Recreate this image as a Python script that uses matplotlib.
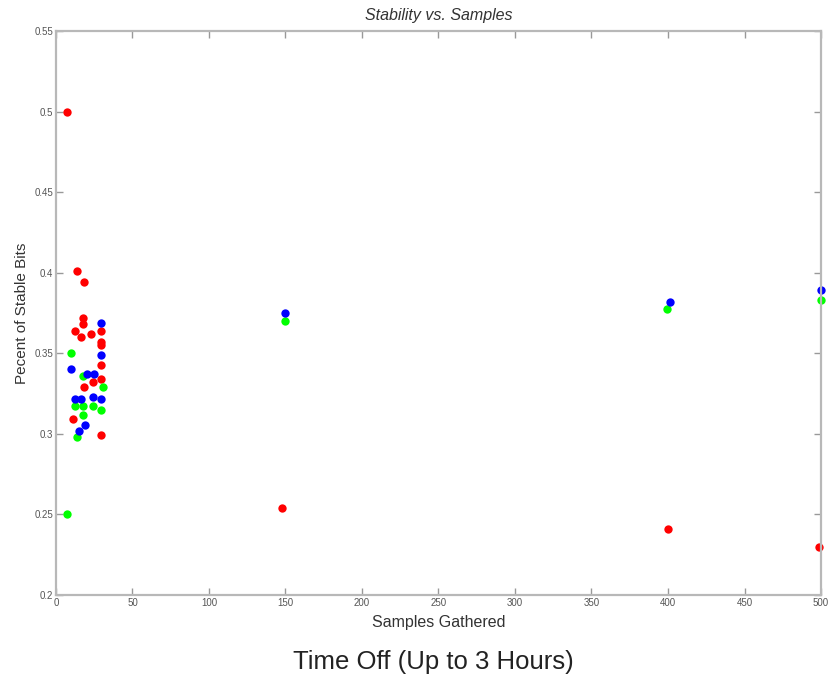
import numpy as np
import matplotlib
matplotlib.use('Agg')
from matplotlib import pyplot as plt

plt.rcParams['font.family'] = ['Liberation Sans', 'DejaVu Sans']

# red series
red_x = [7.2, 13.5, 18.5, 17.5, 17.8, 12.4, 16.3, 22.9, 29.4, 29.4, 29.4, 29.4,
         29.4, 24.4, 18.5, 11.3, 29.4, 148.0, 400.0, 499.0]
red_y = [0.500, 0.401, 0.394, 0.372, 0.368, 0.364, 0.360, 0.362, 0.364, 0.357,
         0.355, 0.343, 0.334, 0.332, 0.329, 0.309, 0.299, 0.254, 0.241, 0.230]

# green series
green_x = [7.0, 9.8, 17.4, 30.5, 12.4, 17.4, 24.0, 29.4, 17.4, 13.9,
           150.0, 399.5, 500.0]
green_y = [0.250, 0.350, 0.336, 0.329, 0.317, 0.317, 0.317, 0.315, 0.312, 0.298,
           0.370, 0.3775, 0.383]

# blue series
blue_x = [29.4, 29.4, 9.8, 20.0, 25.0, 24.0, 12.4, 16.3, 29.4, 19.0, 15.2,
          149.5, 401.4, 500.0]
blue_y = [0.369, 0.349, 0.3405, 0.337, 0.337, 0.323, 0.3215, 0.3215, 0.3215,
          0.3055, 0.302, 0.375, 0.3817, 0.389]

x_ticks = np.arange(0, 501, 50)
y_ticks = [0.2, 0.25, 0.3, 0.35, 0.4, 0.45, 0.5, 0.55]
y_labels = ['0.2', '0.25', '0.3', '0.35', '0.4', '0.45', '0.5', '0.55']

fig = plt.figure(figsize=(8.33, 6.79), dpi=100)
ax = fig.add_axes([0.0672, 0.1237, 0.9184, 0.8306])

ms = 6
ax.plot(red_x, red_y, 'o', color='#ff0000', ms=ms, mew=0, clip_on=False)
ax.plot(green_x, green_y, 'o', color='#00ff00', ms=ms, mew=0, clip_on=False)
ax.plot(blue_x, blue_y, 'o', color='#0000ff', ms=ms, mew=0, clip_on=False)

ax.set_xlim(0, 500)
ax.set_ylim(0.2, 0.55)
ax.set_xticks(x_ticks)
ax.set_yticks(y_ticks)
ax.set_yticklabels(y_labels)

frame_col = '#b8b8b8'
for s in ax.spines.values():
    s.set_color(frame_col)
    s.set_linewidth(1.6)
ax.tick_params(direction='in', top=True, right=True, length=5, width=1,
               color='#999999', labelsize=7, labelcolor='#555555', pad=2)

ax.set_title('Stability vs. Samples', fontsize=11.5, style='italic',
             color='#333333', pad=8)
ax.set_xlabel('Samples Gathered', fontsize=11.5, color='#333333', labelpad=5)
ax.set_ylabel('Pecent of Stable Bits', fontsize=11, color='#333333', labelpad=4)

fig.text(0.52, 0.025, 'Time Off (Up to 3 Hours)', fontsize=18.5,
         ha='center', va='center', color='#222222')

fig.savefig('out.png', dpi=100)
